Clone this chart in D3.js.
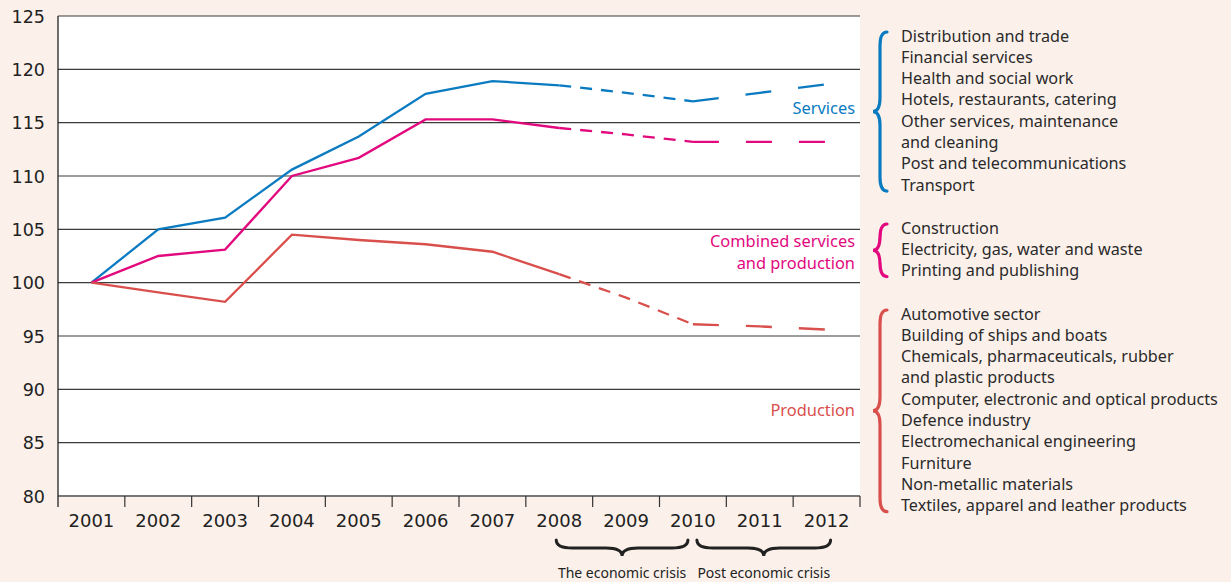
<!DOCTYPE html>
<html>
<head>
<meta charset="utf-8">
<script src="https://cdn.jsdelivr.net/npm/d3@7"></script>
<style>
body { margin: 0; background: #fcf1ea; }
svg { display: block; }
</style>
</head>
<body>
<div id="chart"></div>
<script>
var WIDTH = 1231;
var HEIGHT = 582;

// data
const years = ["2001","2002","2003","2004","2005","2006","2007","2008","2009","2010","2011","2012"];
const services = [100, 105.0, 106.1, 110.6, 113.7, 117.7, 118.9, 118.5, 117.8, 117.0, 117.8, 118.6];
const combined = [100, 102.5, 103.1, 110.0, 111.7, 115.3, 115.3, 114.5, 113.9, 113.2, 113.2, 113.2];
const production = [100, 99.1, 98.2, 104.5, 104.0, 103.6, 102.9, 100.8, 98.6, 96.1, 95.9, 95.6];
const yTicks = [80, 85, 90, 95, 100, 105, 110, 115, 120, 125];

const servicesItems = ["Distribution and trade", "Financial services", "Health and social work",
  "Hotels, restaurants, catering", "Other services, maintenance", "and cleaning",
  "Post and telecommunications", "Transport"];
const combinedItems = ["Construction", "Electricity, gas, water and waste", "Printing and publishing"];
const productionItems = ["Automotive sector", "Building of ships and boats", "Chemicals, pharmaceuticals, rubber",
  "and plastic products", "Computer, electronic and optical products", "Defence industry",
  "Electromechanical engineering", "Furniture", "Non-metallic materials", "Textiles, apparel and leather products"];

const BLUE = "#0b7bc1", PINK = "#e2087e", RED = "#d94f4c";

var LEFT = 58, RIGHT = 860, TOP = 16, BOTTOM = 496;

const svg = d3.select("#chart").append("svg").attr("width", WIDTH).attr("height", HEIGHT)

svg.append("rect").attr("x", LEFT).attr("y", TOP).attr("width", RIGHT - LEFT).attr("height", BOTTOM - TOP).attr("fill", "white")

const x = d3.scaleBand().domain(years).range([LEFT, RIGHT]).padding(0)
const y = d3.scaleLinear().domain([80, 125]).range([BOTTOM, TOP])
const cx = d => x(d) + x.bandwidth() / 2

// grid lines
svg.append("g").selectAll("line").data(yTicks).enter().append("line")
  .attr("x1", LEFT).attr("x2", RIGHT).attr("y1", d => y(d)).attr("y2", d => y(d))
  .attr("stroke", d => d == 80 ? "#777" : "#3a3a3a").attr("stroke-width", d => d == 80 ? 2 : 1.2)

// y axis
svg.append("line").attr("x1", LEFT).attr("x2", LEFT).attr("y1", TOP).attr("y2", BOTTOM + 11).attr("stroke", "#222").attr("stroke-width", 1.3)
svg.append("g").selectAll("text").data(yTicks).enter().append("text")
  .attr("x", 45).attr("y", d => y(d) + 6.5).attr("text-anchor", "end")
  .attr("font-family", "DejaVu Sans").attr("font-size", 17.5).attr("fill", "#222").text(d => d)

// x axis: ticks on the band edges, labels in the middle
const gen_x = d3.axisBottom(x).tickSize(0).tickPadding(18)
const xg = svg.append("g").attr("transform", "translate(0," + BOTTOM + ")").call(gen_x)
xg.select(".domain").remove()
xg.selectAll("text").attr("font-family", "DejaVu Sans").attr("font-size", 18).attr("fill", "#222")
svg.append("g").selectAll("line").data(years.slice(1).concat(["end"])).enter().append("line")
  .attr("x1", d => d == "end" ? RIGHT : x(d)).attr("x2", d => d == "end" ? RIGHT : x(d))
  .attr("y1", BOTTOM).attr("y2", BOTTOM + 11).attr("stroke", "#333").attr("stroke-width", 1.2)

// lines: solid to 2008, short dashes 2008-2010, long dashes 2010-2012
const line = d3.line().x(d => cx(d[0])).y(d => y(d[1]))
const parts = [[0, 7, null], [7, 9, "12,9"], [9, 11, "26,27"]]
;[[services, BLUE], [combined, PINK], [production, RED]].forEach(s => {
  const pts = years.map((yr, i) => [yr, s[0][i]])
  parts.forEach(p => {
    svg.append("path").attr("d", line(pts.slice(p[0], p[1] + 1)))
      .attr("fill", "none").attr("stroke", s[1]).attr("stroke-width", 2.3)
      .attr("stroke-dasharray", p[2])
  })
})

// series labels inside the plot
const lab = (t, yy, c) => svg.append("text").attr("x", 855).attr("y", yy).attr("text-anchor", "end")
  .attr("font-family", "Noto Sans").attr("font-size", 16.4).attr("fill", c).text(t)
lab("Services", 114, BLUE)
lab("Combined services", 247, PINK)
lab("and production", 269, PINK)
lab("Production", 416, RED)

// curly brace, vertical, tip pointing left
function vbrace(xx, y0, y1, w) {
  const m = (y0 + y1) / 2, h = w / 2
  return "M" + (xx + w) + "," + y0 + " Q" + (xx + h) + "," + y0 + " " + (xx + h) + "," + (y0 + w)
    + " L" + (xx + h) + "," + (m - w) + " Q" + (xx + h) + "," + m + " " + xx + "," + m
    + " Q" + (xx + h) + "," + m + " " + (xx + h) + "," + (m + w)
    + " L" + (xx + h) + "," + (y1 - w) + " Q" + (xx + h) + "," + y1 + " " + (xx + w) + "," + y1
}
// horizontal, tip pointing down
function hbrace(x0, x1, yy, h) {
  const m = (x0 + x1) / 2, k = h / 2
  return "M" + x0 + "," + yy + " Q" + x0 + "," + (yy + k) + " " + (x0 + h) + "," + (yy + k)
    + " L" + (m - h) + "," + (yy + k) + " Q" + m + "," + (yy + k) + " " + m + "," + (yy + h)
    + " Q" + m + "," + (yy + k) + " " + (m + h) + "," + (yy + k)
    + " L" + (x1 - h) + "," + (yy + k) + " Q" + x1 + "," + (yy + k) + " " + x1 + "," + yy
}

const groups = [[servicesItems, BLUE, 36], [combinedItems, PINK, 228], [productionItems, RED, 314]]
const LH = 21.3
groups.forEach(g => {
  const y0 = g[2] - 4, y1 = g[2] + (g[0].length - 1) * LH + 6
  svg.append("path").attr("d", vbrace(873, y0, y1, 14)).attr("fill", "none")
    .attr("stroke", g[1]).attr("stroke-width", 3.2).attr("stroke-linecap", "round")
  svg.append("g").selectAll("text").data(g[0]).enter().append("text")
    .attr("x", 901).attr("y", (d, i) => g[2] + i * LH + 5.5)
    .attr("font-family", "Noto Sans").attr("font-size", 16.2).attr("fill", "#2a2a2a").text(d => d)
})

// crisis periods under the axis
const periods = [["2008", "2010", "The economic crisis"], ["2010", "2012", "Post economic crisis"]]
periods.forEach((p, i) => {
  const x0 = cx(p[0]) - 3 + (i == 1 ? 7 : 0), x1 = cx(p[1]) + (i == 0 ? -5 : 4)
  svg.append("path").attr("d", hbrace(x0, x1, 540, 16)).attr("fill", "none")
    .attr("stroke", "#222").attr("stroke-width", 3).attr("stroke-linecap", "round")
  svg.append("text").attr("x", (x0 + x1) / 2).attr("y", 578).attr("text-anchor", "middle")
    .attr("font-family", "Noto Sans").attr("font-size", 14).attr("fill", "#222").text(p[2])
})
</script>
</body>
</html>
